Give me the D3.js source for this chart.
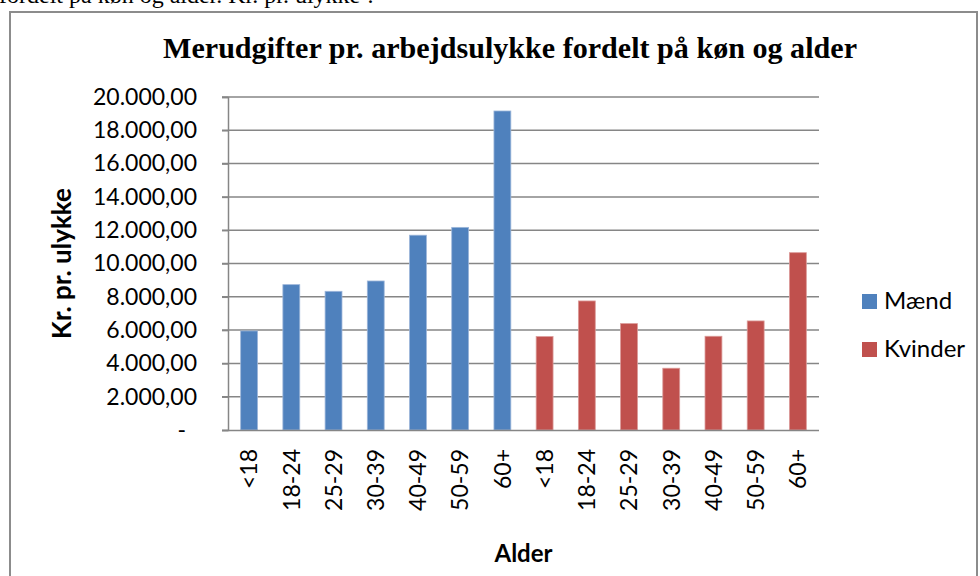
<!DOCTYPE html>
<html>
<head>
<meta charset="utf-8">
<script src="https://cdn.jsdelivr.net/npm/d3@7"></script>
<style>
  html, body { margin: 0; padding: 0; background: #fff; }
  svg { display: block; }
</style>
</head>
<body>
<svg id="chart" width="980" height="576"></svg>
<script>
// ---- data ----
const ages = ["<18", "18-24", "25-29", "30-39", "40-49", "50-59", "60+"];
const seriesNames = ["Mænd", "Kvinder"];
const maend = [5950, 8730, 8330, 8950, 11700, 12170, 19160];
const kvinder = [5610, 7750, 6390, 3710, 5630, 6550, 10650];
const yTicks = [0, 2000, 4000, 6000, 8000, 10000, 12000, 14000, 16000, 18000, 20000];
const titleText = "Merudgifter pr. arbejdsulykke fordelt på køn og alder";
const yTitle = "Kr. pr. ulykke";
const xTitle = "Alder";
const topText = "fordelt på køn og alder. Kr. pr. ulykke\u00B9.";

const colors = {"Mænd": "#4F81BD", "Kvinder": "#C0504D"};
const edge = {"Mænd": "#9DB6DA", "Kvinder": "#DB9A98"};

const rows = [];
maend.forEach((v, i) => rows.push({key: "m" + i, label: ages[i], series: "Mænd", value: v}));
kvinder.forEach((v, i) => rows.push({key: "k" + i, label: ages[i], series: "Kvinder", value: v}));

const svg = d3.select("#chart");
const font = "Lato, 'Open Sans', sans-serif";

const da = d3.formatLocale({decimal: ",", thousands: ".", grouping: [3], currency: ["", " kr"]});
const fmt = da.format(",.2f");

const plot = {left: 228, right: 819, top: 97, bottom: 430};

const x = d3.scaleBand()
  .domain(rows.map(d => d.key))
  .range([plot.left, plot.right])
  .paddingInner(0.6)
  .paddingOuter(0.3);

const y = d3.scaleLinear().domain([0, 20000]).range([plot.bottom, plot.top]);

// top cut-off text from surrounding document
svg.append("text")
  .attr("x", -1).attr("y", 3)
  .attr("font-family", "'Liberation Serif', 'Times New Roman', serif")
  .attr("font-size", 24)
  .attr("fill", "#000")
  .text(topText);

// frame
svg.append("rect")
  .attr("x", 10).attr("y", 12)
  .attr("width", 967).attr("height", 600)
  .attr("fill", "none")
  .attr("stroke", "#8c8c8c")
  .attr("stroke-width", 2);

// title
svg.append("text")
  .attr("x", 510).attr("y", 58)
  .attr("text-anchor", "middle")
  .attr("font-family", "'Liberation Serif', 'Times New Roman', serif")
  .attr("font-weight", "bold")
  .attr("font-size", 30)
  .attr("textLength", 694)
  .attr("lengthAdjust", "spacingAndGlyphs")
  .attr("fill", "#000")
  .text(titleText);

// gridlines
svg.append("g")
  .selectAll("line")
  .data(yTicks.filter(t => t > 0))
  .join("line")
  .attr("x1", plot.left - 6).attr("x2", plot.right)
  .attr("y1", d => y(d)).attr("y2", d => y(d))
  .attr("stroke", "#868686").attr("stroke-width", 1.5);

// y axis
const yAxis = svg.append("g")
  .attr("transform", `translate(${plot.left},0)`)
  .call(d3.axisLeft(y).tickValues(yTicks).tickSize(6).tickPadding(25)
    .tickFormat(d => d === 0 ? "-" : fmt(d)));
yAxis.select(".domain").attr("stroke", "#868686").attr("stroke-width", 1.5);
yAxis.selectAll(".tick line").attr("stroke", "#868686").attr("stroke-width", 1.5);
yAxis.selectAll(".tick text")
  .attr("font-family", font).attr("font-size", 23).attr("fill", "#000")
  .attr("dx", d => d === 0 ? -11 : 0);

// bars
svg.append("g")
  .selectAll("rect")
  .data(rows)
  .join("rect")
  .attr("x", d => x(d.key))
  .attr("width", x.bandwidth())
  .attr("y", d => y(d.value))
  .attr("height", d => y(0) - y(d.value))
  .attr("fill", d => colors[d.series])
  .attr("stroke", d => edge[d.series])
  .attr("stroke-width", 0.8);

// x axis
const xAxis = svg.append("g")
  .attr("transform", `translate(0,${plot.bottom})`)
  .call(d3.axisBottom(x).tickSize(0).tickPadding(0)
    .tickFormat(k => rows.find(r => r.key === k).label));
xAxis.select(".domain").attr("stroke", "#868686").attr("stroke-width", 1.5)
  .attr("d", `M${plot.left - 6},0.5H${plot.right}`);
xAxis.selectAll(".tick text")
  .attr("font-family", font).attr("font-size", 23).attr("fill", "#000")
  .attr("text-anchor", "end")
  .attr("transform", "rotate(-90)")
  .attr("x", -19).attr("y", 0).attr("dy", "0.36em");

// axis titles
svg.append("text")
  .attr("transform", `translate(71,${(plot.top + plot.bottom) / 2}) rotate(-90)`)
  .attr("text-anchor", "middle")
  .attr("font-family", font).attr("font-weight", "bold").attr("font-size", 26)
  .attr("fill", "#000")
  .text(yTitle);

svg.append("text")
  .attr("x", (plot.left + plot.right) / 2).attr("y", 562)
  .attr("text-anchor", "middle")
  .attr("font-family", font).attr("font-weight", "bold").attr("font-size", 24)
  .attr("fill", "#000")
  .text(xTitle);

// legend
const leg = svg.append("g").selectAll("g")
  .data(seriesNames)
  .join("g")
  .attr("transform", (d, i) => `translate(862,${294 + i * 48})`);
leg.append("rect").attr("width", 15).attr("height", 15)
  .attr("fill", d => colors[d]);
leg.append("text").attr("x", 22).attr("y", 15)
  .attr("font-family", font).attr("font-size", 24).attr("fill", "#000")
  .text(d => d);
</script>
</body>
</html>
